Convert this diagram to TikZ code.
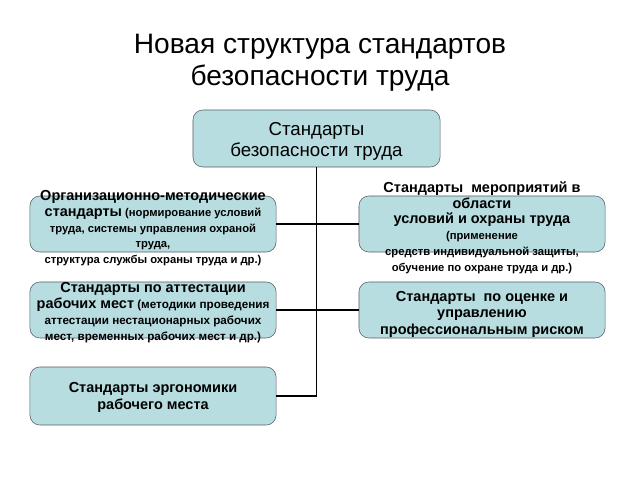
\documentclass[tikz,border=0pt]{standalone}
\usepackage{fontspec}
\setmainfont{Liberation Sans}
\definecolor{boxfill}{RGB}{183,221,224}
\definecolor{boxline}{RGB}{85,95,100}

\begin{document}
\begin{tikzpicture}[x=0.025cm, y=-0.025cm]
% Set the page size (640 x 480 px)
\useasboundingbox (0,0) rectangle (640,480);
\tikzset{
  stdbox/.style={draw=boxline, fill=boxfill, rounded corners=7pt, minimum width=6.15cm, minimum height=1.4cm, inner sep=0pt},
  boxtext/.style={align=center, inner sep=0pt},
  link/.style={draw=black, line width=1.3pt}
}
\def\bigfont{\fontsize{10.3}{11.2}\selectfont}
\def\smallfont{\fontsize{8}{11.2}\selectfont}

% Title
\node[font=\fontsize{20}{23}\selectfont, align=center] (title) at (320, 63) {Новая структура стандартов\\безопасности труда};

% Draw the boxes
\node[stdbox, minimum width=6.175cm, minimum height=1.425cm] (top) at (316.5, 138.5) {};
\node[stdbox] (l1) at (153, 224) {};
\node[stdbox] (r1) at (482, 224) {};
\node[stdbox] (l2) at (153, 310) {};
\node[stdbox] (r2) at (482, 310) {};
\node[stdbox, minimum height=1.45cm] (l3) at (153, 396) {};

% Connectors
\draw[link] (top.south) -- (top.south |- l3.east) -- (l3.east);
\draw[link] (l1.east) -- (r1.west);
\draw[link] (l2.east) -- (r2.west);

% Insert the texts
\node[boxtext, font=\fontsize{13.3}{15}\selectfont] (ttop) at ([yshift=-2]top.center) {Стандарты\\безопасности труда};
\node[boxtext, font=\bfseries\smallfont] (tl1) at ([yshift=-3]l1.center) {{\bigfont Организационно-методические}\\{\bigfont стандарты} (нормирование условий\\труда, системы управления охраной\\труда,\\структура службы охраны труда и др.)};
\node[boxtext, font=\bfseries\smallfont] (tr1) at ([yshift=-2.5]r1.center) {{\bigfont Стандарты\ \ мероприятий в}\\{\bigfont области}\\{\bigfont условий и охраны труда}\\(применение\\средств индивидуальной защиты,\\обучение по охране труда и др.)};
\node[boxtext, font=\bfseries\fontsize{8.3}{11.5}\selectfont] (tl2) at ([yshift=-2]l2.center) {{\fontsize{10.3}{11.5}\selectfont Стандарты по аттестации}\\{\fontsize{10.3}{11.5}\selectfont рабочих мест} (методики проведения\\аттестации нестационарных рабочих\\мест, временных рабочих мест и др.)};
\node[boxtext, font=\bfseries\fontsize{10.3}{11.7}\selectfont] (tr2) at ([yshift=-3]r2.center) {Стандарты\ \ по оценке и\\управлению\\профессиональным риском};
\node[boxtext, font=\bfseries\fontsize{10.3}{12}\selectfont] (tl3) at ([yshift=-1]l3.center) {Стандарты эргономики\\рабочего места};
\end{tikzpicture}
\end{document}
